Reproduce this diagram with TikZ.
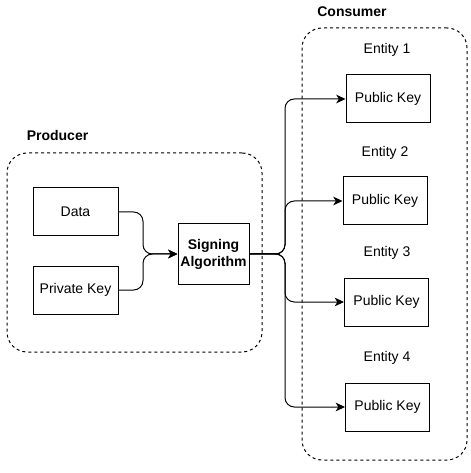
\documentclass[tikz,border=0pt]{standalone}
\usepackage{fontspec}
\setmainfont{Liberation Sans}
\usetikzlibrary{arrows.meta,positioning}

\begin{document}
\begin{tikzpicture}[
  x=0.75pt, y=-0.75pt,
  every node/.style={font=\fontsize{10.5pt}{12.75pt}\selectfont},
  box/.style={rectangle, draw, line width=0.75pt, minimum width=63pt, minimum height=36pt, inner sep=0pt, align=center},
  group/.style={rectangle, draw, dash pattern=on 2.25pt off 2.25pt, rounded corners=15pt, line width=0.75pt, inner sep=0pt},
  title/.style={font=\fontsize{10.5pt}{12.75pt}\selectfont\bfseries},
  flow/.style={-{Stealth[length=7pt, width=6.5pt, inset=2pt]}, line width=0.75pt, rounded corners=7pt},
]
  \useasboundingbox (0,0) rectangle (470,473);

  % containers
  \node[group, minimum width=191.25pt, minimum height=149.25pt] (producer) at (134.5,252.5) {};
  \node[group, minimum width=123.75pt, minimum height=324pt] (consumer) at (384.5,244) {};
  \node[title] (prodlabel) at (57.5,135) {Producer};
  \node[title] (conslabel) at (352,12) {Consumer};

  % producer side
  \node[box, minimum width=63.75pt] (data) at (75.5,212) {Data};
  \node[box, minimum width=63.75pt] (privkey) at (75.5,290) {Private Key};
  \node[box, title, minimum width=53.25pt, minimum height=45pt] (signing) at (213.5,254) {Signing\\Algorithm};

  % consumer side
  \node (entity1) at (387,50) {Entity 1};
  \node[box] (key1) at (388,99) {Public Key};
  \node (entity2) at (385,153) {Entity 2};
  \node[box] (key2) at (385,201) {Public Key};
  \node (entity3) at (387,253) {Entity 3};
  \node[box] (key3) at (386.5,302) {Public Key};
  \node (entity4) at (387,358) {Entity 4};
  \node[box] (key4) at (387.5,407) {Public Key};

  \coordinate (join) at (143,254);
  \coordinate (split) at (285,254);

  \draw[flow] (data.east) -| (join) -- (signing.west);
  \draw[flow] (privkey.east) -| (join) -- (signing.west);
  \foreach \k in {1,...,4}
    \draw[flow] (signing.east) -- (split) |- (key\k.west);
\end{tikzpicture}
\end{document}
